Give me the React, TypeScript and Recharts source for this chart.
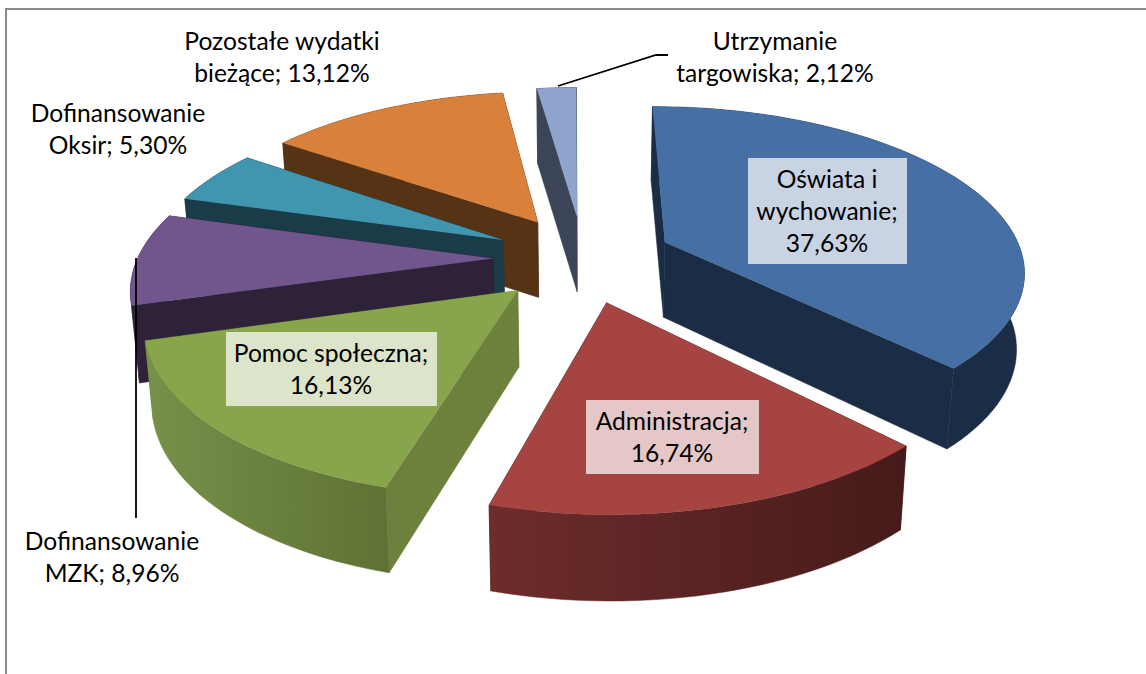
import React from 'react'
import { PieChart, Pie } from 'recharts'

// listed from the back of the pie to the front so later slices paint over earlier ones
const categories = [
  'Utrzymanie targowiska',
  'Pozostałe wydatki bieżące',
  'Dofinansowanie Oksir',
  'Dofinansowanie MZK',
  'Pomoc społeczna',
  'Administracja',
  'Oświata i wychowanie',
]
const shares = [2.12, 13.12, 5.3, 8.96, 16.13, 16.74, 37.63]

const topColors = ['#8fa5cd', '#d9803b', '#4096ae', '#70568c', '#89a54c', '#a64441', '#4670a5']
const sideColors = ['#3c4558', '#573316', '#1a3b47', '#2d2238', '#6d813d', '#4a1c1a', '#1b2d45']
const wallFrom = ['#3c4558', '#573316', '#1a3b47', '#2d2238', '#76914a', '#6e2c2c', '#1b2d45']
const wallTo = ['#3c4558', '#573316', '#1a3b47', '#2d2238', '#5f7234', '#451b19', '#1b2d45']

const labelLines = [
  ['Utrzymanie', 'targowiska;'],
  ['Pozostałe wydatki', 'bieżące;'],
  ['Dofinansowanie', 'Oksir;'],
  ['Dofinansowanie', 'MZK;'],
  ['Pomoc społeczna;'],
  ['Administracja;'],
  ['Oświata i', 'wychowanie;'],
]
const labelCenterX = [775, 282, 118, 112, 331, 672, 827]
const labelFirstY = [50, 50, 122, 550, 362, 430, 188]
const labelBoxes = [null, null, null, null, [226, 332, 211, 74], [586, 400, 173, 74], [748, 158, 159, 106]]
const leaderLines = ['558,86 656,55 668,55', null, null, '136,258 136,518', null, null, null]

const tableData = categories.map((name, i) => ({ name, value: shares[i] }))

const CX = 583
const CY = 258.5
const OUTER = 357
const FLAT = 162 / 357
const TILT = 0.16
const SHEAR = 6.5
const ROLL = 0.008
const EXPLODE_U = 0.252
const EXPLODE_V = 0.27
const LINE_GAP = 32

const rad = (deg: number) => (deg * Math.PI) / 180

// disc coordinates to screen: perspective shrinks the back, shear and roll follow the 3D camera
const top = (u: number, v: number): [number, number] => {
  const w = 1 + TILT * v
  const x = (OUTER * u) / w
  return [CX + x - SHEAR * v, CY - (OUTER * FLAT * v) / w - ROLL * x]
}
const bottom = (u: number, v: number): [number, number] => {
  const [x, y] = top(u, v)
  return [CX + (x - CX) * 0.982, y + 75 - 9 * Math.min(v, 0)]
}
const toPath = (pts: [number, number][]) =>
  'M' + pts.map((p) => p[0].toFixed(1) + ',' + p[1].toFixed(1)).join('L') + 'Z'

const Slice3D = (props: any) => {
  const { startAngle, endAngle, name, payload } = props
  const idx = categories.indexOf(name ?? payload?.name)
  const mid = (startAngle + endAngle) / 2
  const ou = EXPLODE_U * Math.cos(rad(mid))
  const ov = EXPLODE_V * Math.sin(rad(mid))
  const arc: [number, number][] = []
  const steps = Math.max(4, Math.ceil((endAngle - startAngle) / 2))
  for (let i = 0; i <= steps; i++) {
    const a = rad(startAngle + ((endAngle - startAngle) * i) / steps)
    arc.push([ou + Math.cos(a), ov + Math.sin(a)])
  }
  const topArc = arc.map((p) => top(p[0], p[1]))
  const lowArc = arc.map((p) => bottom(p[0], p[1]))
  const tipTop = top(ou, ov)
  const tipLow = bottom(ou, ov)
  const xs = topArc.map((p) => p[0])
  const gradId = 'wall-' + idx
  return (
    <g>
      <defs>
        <linearGradient
          id={gradId}
          gradientUnits="userSpaceOnUse"
          x1={Math.min(...xs)}
          x2={Math.max(...xs)}
          y1={0}
          y2={0}
        >
          <stop offset="0%" stopColor={wallFrom[idx]} />
          <stop offset="100%" stopColor={wallTo[idx]} />
        </linearGradient>
      </defs>
      <path
        d={toPath([tipTop, topArc[0], lowArc[0], tipLow])}
        fill={sideColors[idx]}
        stroke={sideColors[idx]}
        strokeWidth={0.5}
      />
      <path
        d={toPath([tipTop, topArc[topArc.length - 1], lowArc[lowArc.length - 1], tipLow])}
        fill={sideColors[idx]}
        stroke={sideColors[idx]}
        strokeWidth={0.5}
      />
      <path
        d={toPath([...topArc, ...[...lowArc].reverse()])}
        fill={`url(#${gradId})`}
        stroke={`url(#${gradId})`}
        strokeWidth={0.5}
      />
      <path d={toPath([tipTop, ...topArc])} fill={topColors[idx]} />
    </g>
  )
}

const SliceLabel = (props: any) => {
  const idx = categories.indexOf(props.name ?? props.payload?.name)
  const box = labelBoxes[idx]
  const leader = leaderLines[idx]
  const percent = shares[idx].toFixed(2).replace('.', ',') + '%'
  const lines = [...labelLines[idx]]
  // short labels finish the last line with the value, boxed ones put it on its own line
  if (box) lines.push(percent)
  else lines[lines.length - 1] += ' ' + percent
  return (
    <g>
      {leader && <polyline points={leader} fill="none" stroke="#000" strokeWidth={1.8} />}
      {box && <rect x={box[0]} y={box[1]} width={box[2]} height={box[3]} fill="#fff" fillOpacity={0.7} />}
      {lines.map((line, i) => (
        <text
          key={i}
          x={labelCenterX[idx]}
          y={labelFirstY[idx] + i * LINE_GAP}
          textAnchor="middle"
          fontFamily="Lato, sans-serif"
          fontSize={24.6}
          fill="#000"
        >
          {line}
        </text>
      ))}
    </g>
  )
}

export default function App() {
  return (
    <div style={{ position: 'absolute', left: 0, top: 0, width: 1146, height: 674, overflow: 'hidden', background: '#fff' }}>
      <div style={{ position: 'absolute', left: 5, top: 8, width: 1300, height: 800, border: '2px solid #8a8a8a' }} />
      <div style={{ position: 'absolute', left: 0, top: 0 }}>
        <PieChart width={1146} height={674} margin={{ top: 0, right: 0, bottom: 0, left: 0 }}>
          <Pie
            data={tableData}
            dataKey="value"
            nameKey="name"
            cx={CX}
            cy={CY}
            innerRadius={0}
            outerRadius={OUTER}
            startAngle={89}
            endAngle={449}
            paddingAngle={0}
            stroke="none"
            isAnimationActive={false}
            shape={Slice3D}
            label={SliceLabel}
            labelLine={false}
          />
        </PieChart>
      </div>
    </div>
  )
}
